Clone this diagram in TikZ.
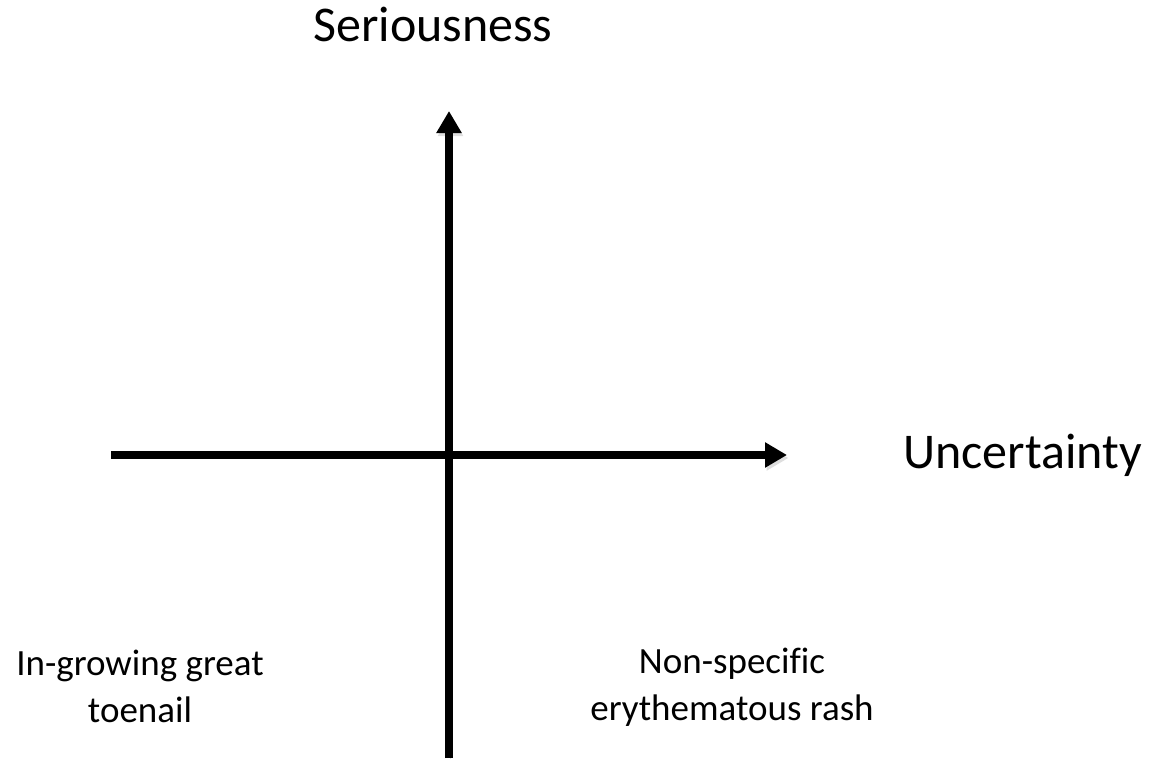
\documentclass[tikz,border=0pt]{standalone}
\usepackage{fontspec}
\setmainfont[Ligatures=NoCommon]{Carlito}
\usetikzlibrary{arrows.meta}
\newcommand{\bigtxt}{\fontsize{50}{60}\selectfont}
\newcommand{\smalltxt}{\fontsize{37}{47}\selectfont}

\begin{document}
\begin{tikzpicture}[x=1pt, y=-1pt,
		axis/.style={line width=7.5pt, -{Triangle[width=24pt, length=22pt]},
			preaction={draw=black!13, transform canvas={shift={(1.5pt,-3pt)}}}},
		axislabel/.style={font=\bigtxt, inner sep=0pt, anchor=base},
		quadlabel/.style={font=\smalltxt, align=center, inner sep=0pt, anchor=base}]
			\useasboundingbox (0,0) rectangle (1165,758);
			\coordinate (v-bot) at (449,758);
			\coordinate (v-top) at (449,111);
			\coordinate (h-left) at (111,455);
			\coordinate (h-right) at (787,455);
			\node [axislabel] (serious) at (433,41) {Seriousness};
			\node [axislabel, anchor=base west] (uncert) at (903,468) {Uncertainty};
			% base anchor sits on the last line
			\node [quadlabel] (toenail) at (140,722) {In-growing great\\toenail};
			\node [quadlabel] (rash) at (732,720) {Non-specific\\erythematous rash};
			\draw[axis] (v-bot) -- (v-top);
			\draw[axis] (h-left) -- (h-right);
		\end{tikzpicture}
\end{document}
